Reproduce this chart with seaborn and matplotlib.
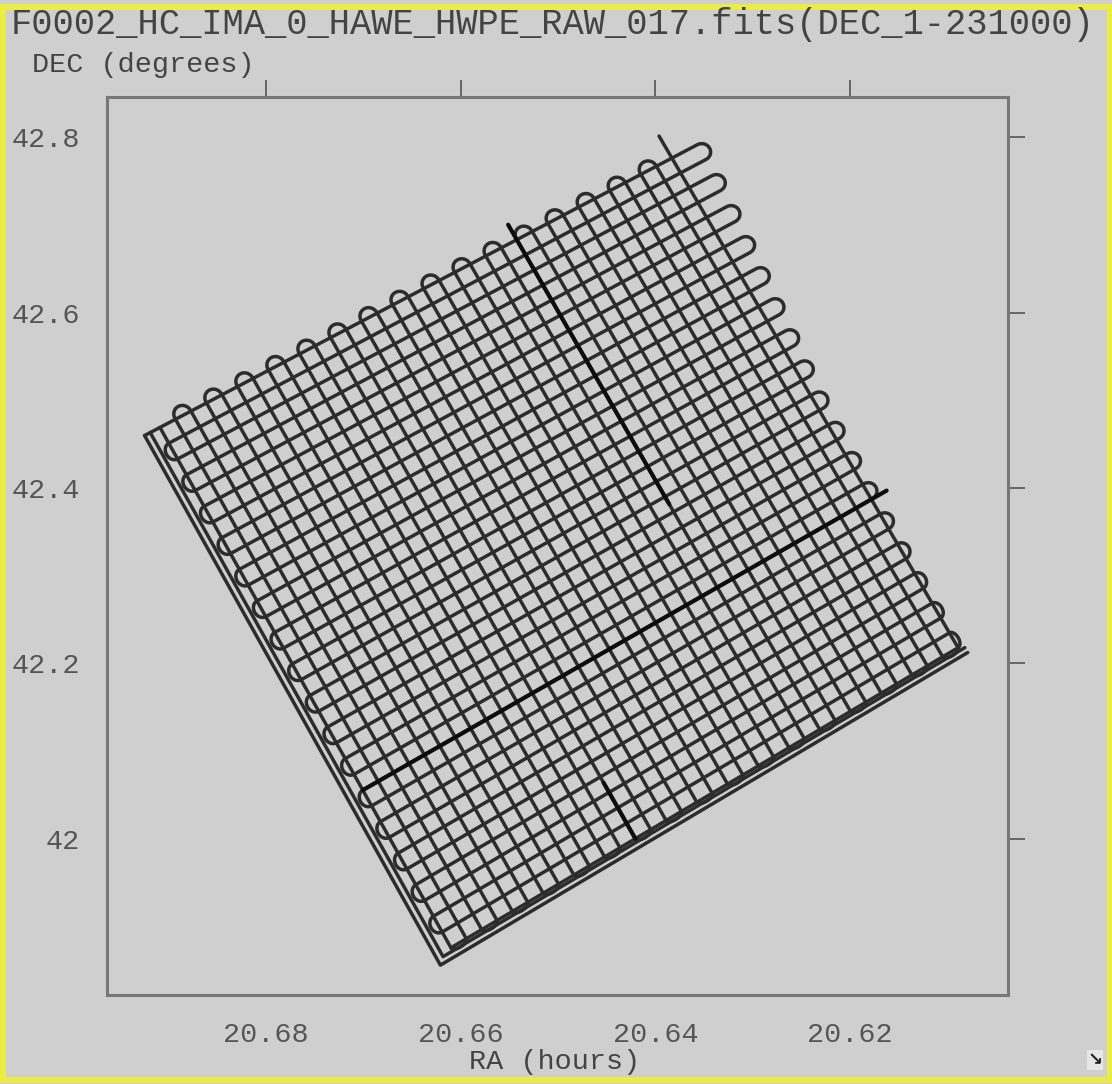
import numpy as np
import pandas as pd
import matplotlib
matplotlib.use("Agg")
import matplotlib.pyplot as plt
import seaborn as sns
from matplotlib.patches import Rectangle

# ---------------- data ----------------
# scan-map corners: left, top, right, bottom  (RA hours, DEC degrees)
corner_ra = [20.6909, 20.6383, 20.6089, 20.6610]
corner_dec = [42.469, 42.776, 42.218, 41.876]
n_legs_shallow = 34          # legs running left->top direction
n_legs_steep = 34            # legs running left->bottom direction
# turn-around extents (fraction of map side)
tr_ext_pos = [0.0, 0.5, 1.0]
tr_ext_val = [0.065, 0.022, 0.008]   # shallow scan, top-right side
bl_ext = 0.013                        # shallow scan, bottom-left side
tl_ext = 0.017                        # steep scan, top-left side
br_ext = 0.007                        # steep scan, bottom-right side
# outer slew lines (s offsets along left edge, t offset along bottom edge)
edge_s = [-0.030, -0.019]
edge_t = [1.016, 1.006]
# legs traversed repeatedly (drawn darker)
dark_shallow = [(23, 0.0, 1.03)]                   # (leg, s0, s1)
dark_steep = [(23, -0.03, 0.53), (12, 0.89, 1.0)]  # (leg, t0, t1)

title = "F0002_HC_IMA_0_HAWE_HWPE_RAW_017.fits(DEC_1-231000)"
xticks = [20.68, 20.66, 20.64, 20.62]
yticks = [42.0, 42.2, 42.4, 42.6, 42.8]
xlim = (20.69634, 20.60377)
ylim = (41.8222, 42.8456)

# ---------------- geometry helpers ----------------
Lc = np.array([corner_ra[0], corner_dec[0]])
Tc = np.array([corner_ra[1], corner_dec[1]])
Rc = np.array([corner_ra[2], corner_dec[2]])
Bc = np.array([corner_ra[3], corner_dec[3]])


def P(s, t):
    s = np.asarray(s, float)[..., None]
    t = np.asarray(t, float)[..., None]
    return (1 - s) * (1 - t) * Lc + s * (1 - t) * Tc + s * t * Rc + (1 - s) * t * Bc


def turn(edge, a, b, ext, sign, n=14):
    r = (b - a) / 2.0
    c = (a + b) / 2.0
    straight = max(ext - r, 0.0)
    rs = min(ext, r)
    th = np.linspace(-np.pi / 2, np.pi / 2, n)
    u = edge + sign * (straight + rs * np.cos(th))
    v = c + r * np.sin(th)
    return u, v


rows = []
pid = 0


def add(st_s, st_t, path):
    pts = P(st_s, st_t)
    for x, y in pts:
        rows.append((path, x, y))


# shallow scan (constant t, s varies)
N = n_legs_shallow
tj = np.linspace(0, 1, N)
S, Tt = [], []
for j in range(N):
    if j % 2 == 0:
        s0, s1 = (edge_s[0] if j == 0 else 0.0), 1.0
    else:
        s0, s1 = 1.0, 0.0
    S += [s0, s1]
    Tt += [tj[j], tj[j]]
    if j < N - 1:
        if j % 2 == 0:
            e = np.interp(tj[j], tr_ext_pos, tr_ext_val)
            u, v = turn(1.0, tj[j], tj[j + 1], e, +1)
        else:
            u, v = turn(0.0, tj[j], tj[j + 1], bl_ext, -1)
        S += list(u)
        Tt += list(v)
add(np.array(S), np.array(Tt), pid)
pid += 1

# steep scan (constant s, t varies)
M = n_legs_steep
sk = np.linspace(0, 1, M)
S, Tt = [], []
for k in range(M):
    if k % 2 == 0:
        t0, t1 = 0.0, 1.0
    else:
        t0, t1 = 1.0, 0.0
    if k == M - 1:
        t1 = -0.045 if k % 2 == 1 else t1
    S += [sk[k], sk[k]]
    Tt += [t0, t1]
    if k < M - 1:
        if k % 2 == 0:
            v, u = turn(1.0, sk[k], sk[k + 1], br_ext, +1)
        else:
            v, u = turn(0.0, sk[k], sk[k + 1], tl_ext, -1)
        S += list(u)
        Tt += list(v)
add(np.array(S), np.array(Tt), pid)
pid += 1

# outer slew lines
for es, et in zip(edge_s, edge_t):
    add(np.array([es, es, 1.01]), np.array([0.0, et, et]), pid)
    pid += 1

df = pd.DataFrame(rows, columns=["path", "ra", "dec"])

drows = []
did = 0
for leg, s0, s1 in dark_shallow:
    for x, y in P([s0, s1], [tj[leg], tj[leg]]):
        drows.append((did, x, y))
    did += 1
for leg, t0, t1 in dark_steep:
    for x, y in P([sk[leg], sk[leg]], [t0, t1]):
        drows.append((did, x, y))
    did += 1
ddf = pd.DataFrame(drows, columns=["path", "ra", "dec"])

# ---------------- drawing ----------------
sns.set_theme(style="white")
plt.rcParams["font.family"] = ["Liberation Mono", "DejaVu Sans Mono", "DejaVu Sans"]

W, H = 1112, 1084
bg = "#cfcfcf"
fig = plt.figure(figsize=(W / 100, H / 100), dpi=100, facecolor=bg)
ax = fig.add_axes([107 / W, 1 - 995 / H, (1008 - 107) / W, (995 - 97) / H])
ax.set_facecolor(bg)

sns.lineplot(data=df, x="ra", y="dec", units="path", estimator=None, sort=False,
             color="#2c2c2c", lw=2.5, ax=ax, legend=False)
sns.lineplot(data=ddf, x="ra", y="dec", units="path", estimator=None, sort=False,
             color="#0d0d0d", lw=3.0, ax=ax, legend=False)

ax.set_xlim(*xlim)
ax.set_ylim(*ylim)
ax.set_xticks(xticks)
ax.set_xticklabels([f"{v:.2f}" for v in xticks])
ax.set_yticks(yticks)
ax.set_yticklabels([("42" if abs(v - 42) < 1e-9 else f"{v:.1f}") for v in yticks])
ax.set_xlabel("")
ax.set_ylabel("")
ax.tick_params(direction="out", top=True, right=True, labeltop=False, labelright=False,
               length=12.5, width=1.4, color="#666666", labelcolor="#555555",
               labelsize=20.5, pad=7)
for sp in ax.spines.values():
    sp.set_visible(True)
    sp.set_color("#777777")
    sp.set_linewidth(2.2)

fig.text(553 / W, 1 - 25 / H, title, ha="center", va="center", fontsize=25.6, color="#444444")
fig.text(32 / W, 1 - 65 / H, "DEC (degrees)", ha="left", va="center", fontsize=20.5, color="#444444")
fig.text(555 / W, 1 - 1062 / H, "RA (hours)", ha="center", va="center", fontsize=20.5, color="#444444")
fig.text(1095 / W, 1 - 1060 / H, "\u2198", ha="center", va="center", fontsize=13, color="#222222",
         family="DejaVu Sans", fontweight="bold",
         bbox=dict(boxstyle="square,pad=0.05", fc="#e6e6e6", ec="none"))

fig.patches.append(Rectangle((3 / W, 1 - 1079.5 / H), (1110 - 3) / W, (1079.5 - 6.5) / H,
                             transform=fig.transFigure, fill=False, edgecolor="#ecec44", lw=4.3))

fig.savefig("out.png", dpi=100, facecolor=bg)
